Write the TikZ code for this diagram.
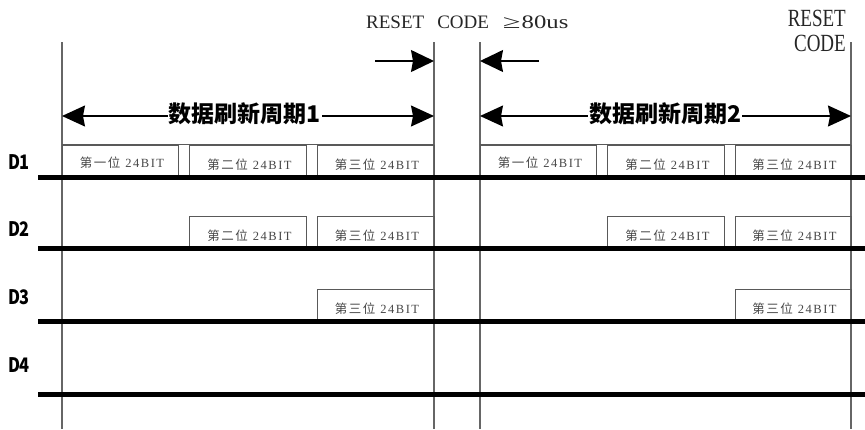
\documentclass[tikz,border=0pt]{standalone}
\usepackage{fontspec}
\setmainfont{Liberation Serif}
\newfontfamily\cjk{Noto Sans CJK SC}
\newfontfamily\cjkthin{Noto Sans CJK SC}[LetterSpace=12]
\newfontfamily\bitfont{Liberation Serif}[LetterSpace=12]
\usetikzlibrary{arrows.meta}
\newcommand\bittxt[1]{{\cjkthin\fontsize{12.5}{13}\selectfont #1}\hspace{5pt}{\bitfont\fontsize{12.5}{13}\selectfont 24BIT}}
\begin{document}
\begin{tikzpicture}[x=1pt,y=-1pt,
  vline/.style={draw=black!60, line width=1.3pt},
  bus/.style={draw=black, line width=5pt},
  bbox/.style={draw=black!65, line width=0.9pt, inner sep=0pt, minimum height=#1},
  btxt/.style={inner sep=0pt, text=black!72},
  dim/.style={draw=black, line width=1.3pt, {Stealth[length=23pt,width=21pt,inset=2pt]}-{Stealth[length=23pt,width=21pt,inset=2pt]}},
  rarr/.style={draw=black, line width=1.3pt, -{Stealth[length=23pt,width=22pt,inset=2pt]}},
  ttl/.style={fill=white, inner sep=1pt, font=\cjk\bfseries\fontsize{23}{23}\selectfont},
  dlab/.style={inner sep=0pt, font=\cjk\bfseries\fontsize{20}{20}\selectfont},
  rtxt/.style={inner sep=0pt, text=black!85, font=\fontsize{19}{25}\selectfont}]
\useasboundingbox (0,0) rectangle (865,429);
% vertical lines
\coordinate (v1t) at (62,42);  \coordinate (v1b) at (62,429);
\coordinate (v2t) at (434,42); \coordinate (v2b) at (434,429);
\coordinate (v3t) at (480,42); \coordinate (v3b) at (480,429);
\coordinate (v4t) at (851,42); \coordinate (v4b) at (851,429);
\draw[vline] (v1t) -- (v1b);
\draw[vline] (v2t) -- (v2b);
\draw[vline] (v3t) -- (v3b);
\draw[vline] (v4t) -- (v4b);
% D1 boxes
\node[bbox=32.5pt, minimum width=116pt] (a1) at (120,161.25) {};
\node[bbox=32.5pt, minimum width=117pt] (a2) at (247.5,161.25) {};
\node[bbox=32.5pt, minimum width=117pt] (a3) at (375.5,161.25) {};
\node[bbox=32.5pt, minimum width=116pt] (a4) at (538,161.25) {};
\node[bbox=32.5pt, minimum width=117pt] (a5) at (665.5,161.25) {};
\node[bbox=32.5pt, minimum width=116pt] (a6) at (793,161.25) {};
\draw[draw=black!65, line width=0.9pt] (a1.north west) -- (a3.north east);
\draw[draw=black!65, line width=0.9pt] (a4.north west) -- (a6.north east);
\node[btxt] (at1) at (122,162.5) {\bittxt{第一位}};
\node[btxt] (at2) at (249.5,165) {\bittxt{第二位}};
\node[btxt] (at3) at (377,165) {\bittxt{第三位}};
\node[btxt] (at4) at (540,162.5) {\bittxt{第一位}};
\node[btxt] (at5) at (667.5,165) {\bittxt{第二位}};
\node[btxt] (at6) at (794.5,165) {\bittxt{第三位}};
% D2 boxes
\node[bbox=32pt, minimum width=117pt] (b2) at (247.5,232) {};
\node[bbox=32pt, minimum width=117pt] (b3) at (375.5,232) {};
\node[bbox=32pt, minimum width=117pt] (b5) at (665.5,232) {};
\node[bbox=32pt, minimum width=116pt] (b6) at (793,232) {};
\node[btxt] (bt2) at (249.5,236) {\bittxt{第二位}};
\node[btxt] (bt3) at (377,236) {\bittxt{第三位}};
\node[btxt] (bt5) at (667.5,236) {\bittxt{第二位}};
\node[btxt] (bt6) at (794.5,236) {\bittxt{第三位}};
% D3 boxes
\node[bbox=31.5pt, minimum width=117pt] (c3) at (375.5,305.25) {};
\node[bbox=31.5pt, minimum width=116pt] (c6) at (793,305.25) {};
\node[btxt] (ct3) at (377,309) {\bittxt{第三位}};
\node[btxt] (ct6) at (794.5,309) {\bittxt{第三位}};
% buses
\coordinate (s1) at (38,177.5); \coordinate (e1) at (865,177.5);
\coordinate (s2) at (38,248);   \coordinate (e2) at (865,248);
\coordinate (s3) at (38,321);   \coordinate (e3) at (865,321);
\coordinate (s4) at (38,394);   \coordinate (e4) at (865,394);
\draw[bus] (s1) -- (e1);
\draw[bus] (s2) -- (e2);
\draw[bus] (s3) -- (e3);
\draw[bus] (s4) -- (e4);
% labels
\node[dlab] (d1) at (19,162) {\scalebox{0.82}[1]{D1}};
\node[dlab] (d2) at (19,229.5) {\scalebox{0.82}[1]{D2}};
\node[dlab] (d3) at (19,297.5) {\scalebox{0.82}[1]{D3}};
\node[dlab] (d4) at (19,365.5) {\scalebox{0.82}[1]{D4}};
% period arrows
\coordinate (p1l) at (62,116); \coordinate (p1r) at (434,116);
\coordinate (p2l) at (480,116); \coordinate (p2r) at (851,116);
\draw[dim] (p1l) -- (p1r);
\draw[dim] (p2l) -- (p2r);
\node[ttl] (t1) at (245,114) {数据刷新周期1};
\node[ttl] (t2) at (665,114) {数据刷新周期2};
% reset arrows
\coordinate (r1s) at (375,61); \coordinate (r1e) at (434,61);
\coordinate (r2s) at (539,61); \coordinate (r2e) at (480,61);
\draw[rarr] (r1s) -- (r1e);
\draw[rarr] (r2s) -- (r2e);
% reset texts
\node[rtxt, anchor=base west] (rst) at (366,28) {RESET\hspace{13pt}CODE\hspace{14pt}\scalebox{1.7}[1]{≥}\hspace{1pt}\scalebox{1.3}[1]{80us}};
\node[rtxt, anchor=north east, align=right] (rc) at (846,10) {\scalebox{1}[1.3]{RESET}\\\scalebox{1}[1.3]{CODE}};
\end{tikzpicture}
\end{document}
